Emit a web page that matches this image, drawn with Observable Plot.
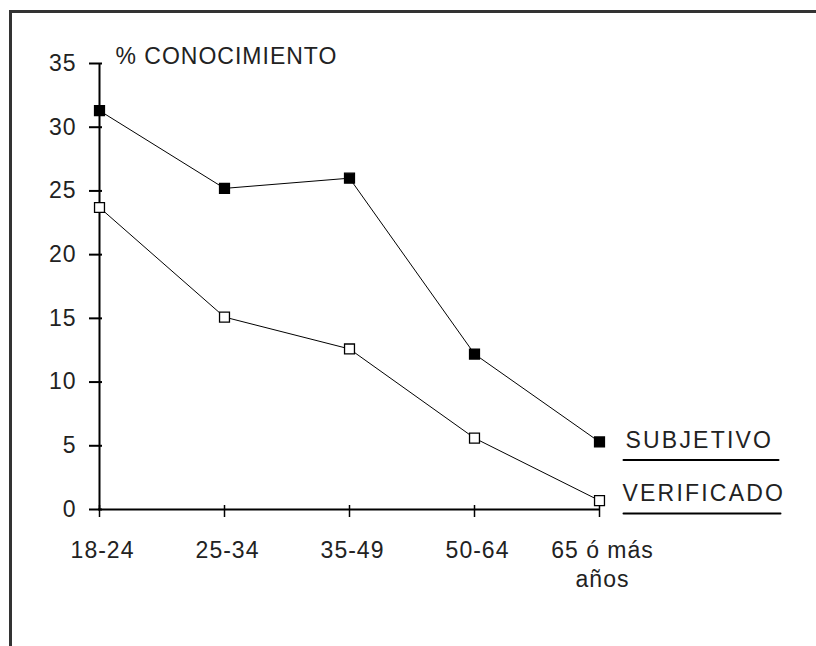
<!DOCTYPE html>
<html>
<head>
<meta charset="utf-8">
<script src="https://cdn.jsdelivr.net/npm/d3@7"></script>
<script src="https://cdn.jsdelivr.net/npm/@observablehq/plot@0.6"></script>
<style>
  html, body { margin: 0; padding: 0; background: #fff; }
  #wrap { position: relative; width: 816px; height: 646px; overflow: hidden; }
  #border { position: absolute; left: 9px; top: 10px; width: 900px; height: 900px;
            border-left: 3px solid #333; border-top: 3px solid #333; pointer-events: none; }
</style>
</head>
<body>
<div id="wrap"><div id="border"></div></div>
<script>
const categories = ["18-24", "25-34", "35-49", "50-64", "65 ó más años"];
const xTickLabels = ["18-24", "25-34", "35-49", "50-64", "65 ó más\naños"];
const subjetivo = [31.3, 25.2, 26.0, 12.2, 5.3];
const verificado = [23.7, 15.1, 12.6, 5.6, 0.7];
const seriesNames = ["SUBJETIVO", "VERIFICADO"];
const yTicks = [0, 5, 10, 15, 20, 25, 30, 35];
const yTitle = "% CONOCIMIENTO";

const rows = [];
categories.forEach((c, i) => {
  rows.push({cat: c, value: subjetivo[i], series: seriesNames[0]});
  rows.push({cat: c, value: verificado[i], series: seriesNames[1]});
});
const last = categories[categories.length - 1];
const lastSubj = rows.filter(d => d.cat === last && d.series === seriesNames[0]);
const lastVer = rows.filter(d => d.cat === last && d.series === seriesNames[1]);
const lineShape = {draw(ctx, l) { ctx.moveTo(0, 0); ctx.lineTo(0, -l); }};

const chart = Plot.plot({
  width: 816,
  height: 646,
  marginLeft: 98,
  marginRight: 217,
  marginTop: 63,
  marginBottom: 137,
  x: {type: "point", domain: categories, padding: 0},
  y: {domain: [0, 35]},
  style: {fontFamily: "'Liberation Sans', Arial, sans-serif", fontSize: "23px", color: "black",
          background: "transparent", letterSpacing: "1px"},
  marks: [
    Plot.ruleX([categories[0]], {stroke: "black", strokeWidth: 2}),
    Plot.ruleY([0], {stroke: "black", strokeWidth: 2}),
    Plot.axisY({ticks: yTicks, tickSize: 13, dx: 4, fill: "none", stroke: "black", strokeWidth: 2, label: null}),
    Plot.axisY({ticks: yTicks, tickSize: 0, tickPadding: 22, label: null, fill: "#222"}),
    Plot.axisX({tickSize: 12, dy: -4, fill: "none", stroke: "black", strokeWidth: 1.5, label: null}),
    Plot.axisX({tickSize: 0, tickPadding: 28, dx: 3, lineHeight: 1.27, fill: "#222",
                tickFormat: d => xTickLabels[categories.indexOf(d)], label: null}),
    Plot.line(rows, {x: "cat", y: "value", z: "series", stroke: "black", strokeWidth: 1}),
    Plot.dot(rows, {x: "cat", y: "value", symbol: "square", r: 5.6,
                    fill: d => d.series === seriesNames[0] ? "black" : "white",
                    stroke: "black", strokeWidth: 1.3}),
    Plot.text([yTitle], {frameAnchor: "top-left", dx: 17, dy: -7, textAnchor: "start", lineAnchor: "middle", fill: "#222"}),
    Plot.text(lastSubj, {x: "cat", y: "value", text: "series", textAnchor: "start", dx: 26, dy: -1, fill: "#222"}),
    Plot.text(lastVer, {x: "cat", y: "value", text: "series", textAnchor: "start", dx: 23, dy: -6.5, fill: "#222"}),
    Plot.vector(lastSubj, {x: "cat", y: "value", length: 155, rotate: 90, anchor: "start", shape: lineShape,
                           stroke: "black", strokeWidth: 2, dx: 24, dy: 18}),
    Plot.vector(lastVer, {x: "cat", y: "value", length: 157, rotate: 90, anchor: "start", shape: lineShape,
                          stroke: "black", strokeWidth: 2, dx: 24, dy: 13})
  ]
});
d3.select(chart).selectAll("text")
  .filter(function() { return seriesNames.includes(this.textContent); })
  .style("letter-spacing", "2.2px");
document.getElementById("wrap").insertBefore(chart, document.getElementById("border"));
</script>
</body>
</html>
